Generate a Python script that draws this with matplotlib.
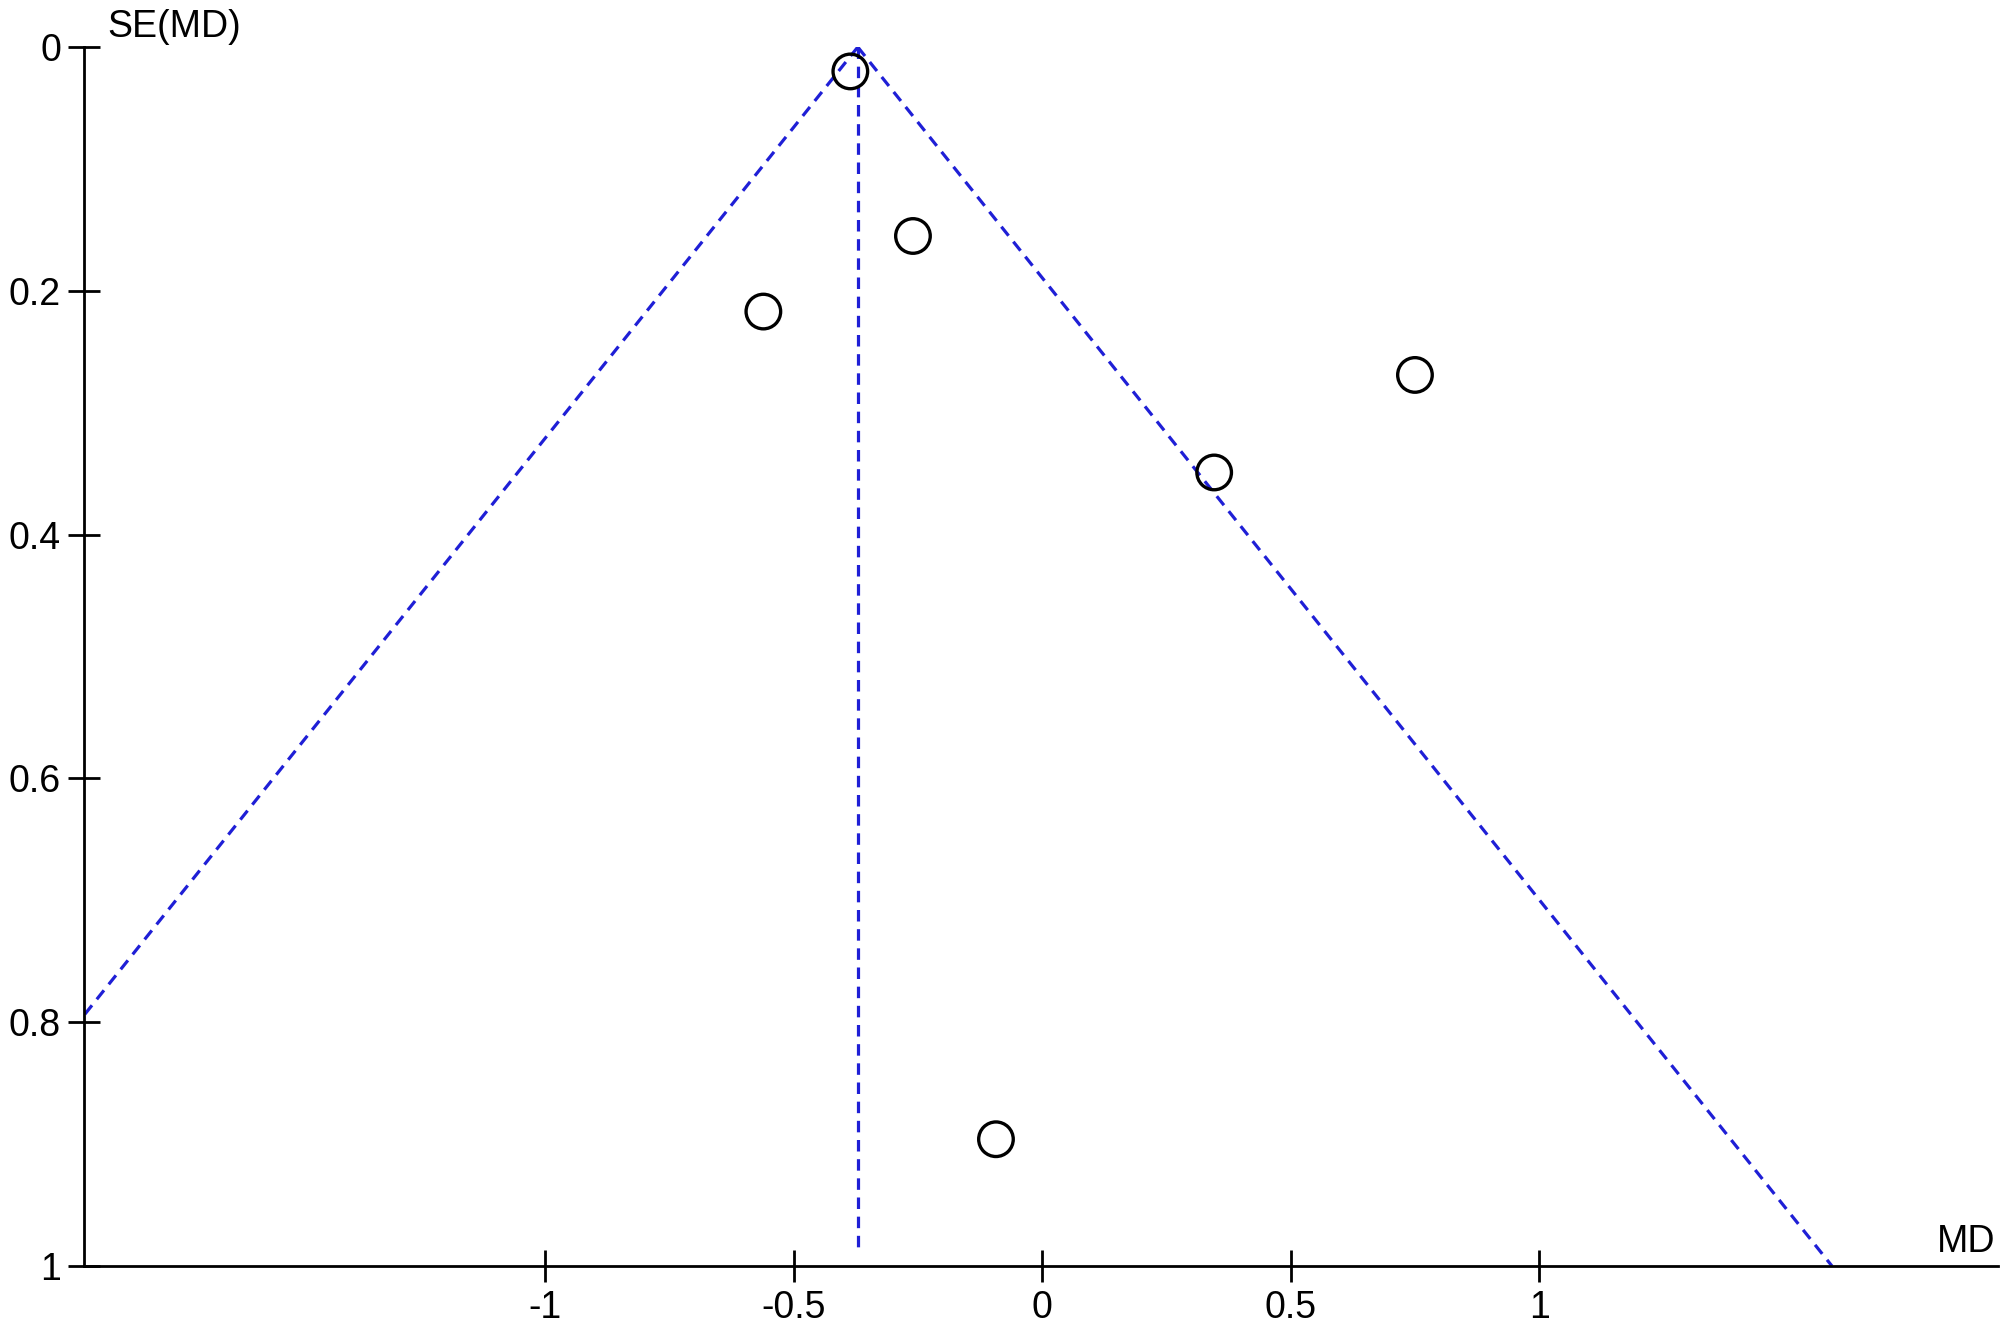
#Funnel plot of mean differences
import matplotlib.pyplot as plt

plt.rcParams['font.family'] = ['Liberation Sans', 'DejaVu Sans']

#Study estimates
md = [-0.386, -0.260, -0.561, 0.750, 0.346, -0.093]
se = [0.020, 0.155, 0.217, 0.269, 0.349, 0.896]

#Pooled estimate
pooled = -0.371
z = 1.96

xticks = [-1, -0.5, 0, 0.5, 1]
xticklabels = ["-1", "-0.5", "0", "0.5", "1"]
yticks = [0, 0.2, 0.4, 0.6, 0.8, 1]
yticklabels = ["0", "0.2", "0.4", "0.6", "0.8", "1"]

blue = "#1f1fd6"
dash = (0, (3.6, 2.4))

fig = plt.figure(figsize=(20.08, 13.29), dpi=100)
ax = fig.add_axes([0.0418, 0.0474, 0.9532, 0.9172])

#funnel limits
se_line = [0, 1]
ax.plot([pooled - z * s for s in se_line], se_line, color=blue, ls=dash, lw=2.3)
ax.plot([pooled + z * s for s in se_line], se_line, color=blue, ls=dash, lw=2.3)
ax.plot([pooled, pooled], [0, 0.985], color=blue, ls=dash, lw=2.3)

ax.scatter(md, se, s=620, facecolors="none", edgecolors="black", linewidths=2.4, zorder=3)

ax.set_xlim(-1.928, 1.923)
ax.set_ylim(1, 0)
ax.set_xticks(xticks)
ax.set_xticklabels(xticklabels)
ax.set_yticks(yticks)
ax.set_yticklabels(yticklabels)

for side in ["top", "right"]:
    ax.spines[side].set_visible(False)
for side in ["left", "bottom"]:
    ax.spines[side].set_linewidth(2)
ax.tick_params(direction="inout", length=23, width=2, labelsize=27)
ax.tick_params(axis="x", pad=6)
ax.tick_params(axis="y", pad=5)

fig.text(107 / 2008, 1 - 37 / 1329, "SE(MD)", fontsize=27, ha="left", va="baseline")
fig.text(1995 / 2008, 1 - 1252 / 1329, "MD", fontsize=27, ha="right", va="baseline")

plt.savefig("out.png")
